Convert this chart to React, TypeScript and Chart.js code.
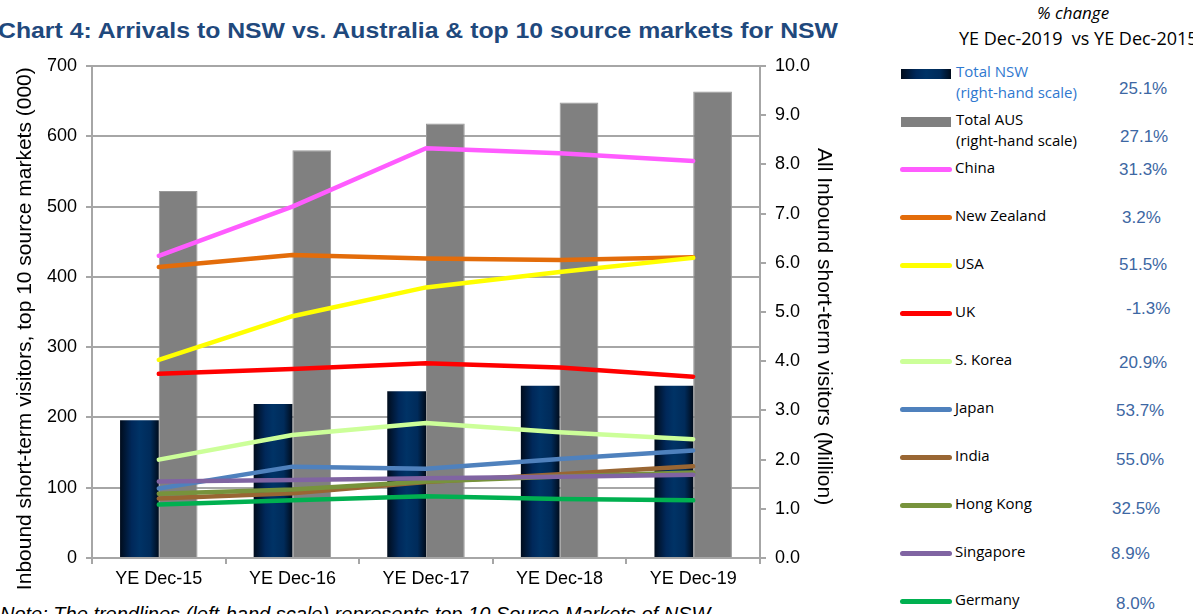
import React, { useEffect, useRef } from "react";
import { Chart, registerables } from "chart.js";

Chart.register(...registerables);

const categories = ["YE Dec-15", "YE Dec-16", "YE Dec-17", "YE Dec-18", "YE Dec-19"];
// Right-hand scale (Million)
const totalNSW = [2.8, 3.13, 3.39, 3.5, 3.5];
const totalAUS = [7.46, 8.29, 8.83, 9.26, 9.48];
// Left-hand scale (000)
const china = [430, 500, 583, 576, 565];
const newZealand = [414, 431, 426, 424, 428];
const usa = [282, 344, 385, 407, 427];
const uk = [262, 269, 277, 271, 258];
const sKorea = [140, 175, 192, 179, 169];
const japan = [99, 130, 127, 141, 153];
const india = [84.5, 92, 108, 119, 130.5];
const hongKong = [91.5, 97.5, 109, 116, 121.5];
const singapore = [109, 111, 113.5, 115.5, 118.5];
const germany = [76, 82, 88, 84, 82];

const leftTicks = { min: 0, max: 700, step: 100 };
const rightTicks = { min: 0, max: 10, step: 1 };

const pctChange = ["25.1%", "27.1%", "31.3%", "3.2%", "51.5%", "-1.3%", "20.9%", "53.7%", "55.0%", "32.5%", "8.9%", "8.0%"];

const lineSeries = [
  { label: "China", data: china, color: "#ff5cff" },
  { label: "New Zealand", data: newZealand, color: "#e36c0a" },
  { label: "USA", data: usa, color: "#ffff00" },
  { label: "UK", data: uk, color: "#ff0000" },
  { label: "S. Korea", data: sKorea, color: "#ccff99" },
  { label: "Japan", data: japan, color: "#4f81bd" },
  { label: "India", data: india, color: "#996633" },
  { label: "Hong Kong", data: hongKong, color: "#77933c" },
  { label: "Singapore", data: singapore, color: "#8064a2" },
  { label: "Germany", data: germany, color: "#00b050" },
];

const AXIS_FONT = "'Liberation Sans', Arial, sans-serif";
const LEGEND_FONT = "'Open Sans', sans-serif";
const gridColor = "#a6a6a6";
const SP = "\u00a0\u00a0\u00a0\u00a0\u00a0";

const navyGradient = {
  id: "navyGradient",
  beforeDatasetsDraw(chart: any) {
    const meta = chart.getDatasetMeta(0);
    const ctx = chart.ctx;
    meta.data.forEach((el: any) => {
      const w = el.width;
      const l = el.x - w / 2;
      const g = ctx.createLinearGradient(l, 0, l + w, 0);
      g.addColorStop(0, "#000c1c");
      g.addColorStop(0.3, "#00285a");
      g.addColorStop(0.5, "#003366");
      g.addColorStop(0.78, "#002b5a");
      g.addColorStop(1, "#000c1c");
      el.options.backgroundColor = g;
    });
  },
};

function ChartCanvas() {
  const ref = useRef<HTMLCanvasElement | null>(null);
  useEffect(() => {
    if (!ref.current) return;
    const datasets: any[] = [
      {
        type: "bar",
        label: "Total NSW",
        data: totalNSW,
        yAxisID: "y1",
        backgroundColor: () => "#003366",
        categoryPercentage: 0.58,
        barPercentage: 1.0,
        order: 100,
      },
      {
        type: "bar",
        label: "Total AUS",
        data: totalAUS,
        yAxisID: "y1",
        backgroundColor: "#808080",
        borderColor: "#999999",
        borderWidth: 1,
        categoryPercentage: 0.58,
        barPercentage: 1.0,
        order: 101,
      },
      ...lineSeries.map((s, i) => ({
        type: "line",
        label: s.label,
        data: s.data,
        yAxisID: "y",
        borderColor: s.color,
        backgroundColor: s.color,
        borderWidth: 4.5,
        borderCapStyle: "round",
        borderJoinStyle: "round",
        pointRadius: 0,
        tension: 0,
        fill: false,
        order: 20 - i,
      })),
    ];
    const chart = new Chart(ref.current, {
      type: "bar",
      data: { labels: categories, datasets },
      plugins: [navyGradient],
      options: {
        responsive: false,
        animation: false,
        devicePixelRatio: 1,
        layout: { padding: { top: 22, left: 0, right: 0, bottom: 0 } },
        plugins: { legend: { display: false }, tooltip: { enabled: false }, title: { display: false } },
        scales: {
          x: {
            offset: true,
            grid: { display: true, drawOnChartArea: false, drawTicks: true, tickLength: 6, offset: true, color: gridColor, lineWidth: 2 },
            border: { display: true, color: gridColor, width: 2 },
            ticks: { font: { family: AXIS_FONT, size: 18 }, color: "#000", padding: 4, maxRotation: 0 },
            afterFit: (s: any) => { s.height = 42; },
          },
          y: {
            position: "left",
            min: leftTicks.min,
            max: leftTicks.max,
            ticks: { stepSize: leftTicks.step, font: { family: AXIS_FONT, size: 18 }, color: "#000", padding: 9 },
            grid: { color: gridColor, lineWidth: 2, tickLength: 6 },
            border: { color: gridColor, width: 2 },
            title: {
              display: true,
              text: "Inbound short-term visitors, top 10 source markets (000)" + SP + "\u2009",
              font: { family: AXIS_FONT, size: 21 },
              color: "#000",
              padding: { top: 13, bottom: 0 },
            },
            afterFit: (s: any) => { s.width = 92; },
          },
          y1: {
            position: "right",
            min: rightTicks.min,
            max: rightTicks.max,
            ticks: {
              stepSize: rightTicks.step,
              font: { family: AXIS_FONT, size: 18 },
              color: "#000",
              padding: 9,
              callback: (v: any) => Number(v).toFixed(1),
            },
            grid: { drawOnChartArea: false, color: gridColor, lineWidth: 2, tickLength: 6 },
            border: { color: gridColor, width: 2 },
            title: {
              display: true,
              text: SP + "All Inbound short-term visitors (Million)",
              font: { family: AXIS_FONT, size: 21 },
              color: "#000",
              padding: { top: 24, bottom: 0 },
            },
            afterFit: (s: any) => { s.width = 100; },
          },
        },
      } as any,
    });
    return () => chart.destroy();
  }, []);
  return <canvas ref={ref} width={860} height={556} style={{ display: "block" }} />;
}

const abs = (left: number, top: number, extra: React.CSSProperties = {}): React.CSSProperties => ({
  position: "absolute",
  left,
  top,
  whiteSpace: "nowrap",
  lineHeight: 1,
  ...extra,
});

export default function App() {
  const lineRowY = [169, 217, 265, 313, 361, 409, 457, 505, 553, 601];
  const pctCapTop = [82, 130, 163, 211, 258, 302, 356, 404, 453, 502, 547, 597];
  const pctX = [1119, 1120, 1119, 1122, 1119, 1126, 1119, 1116, 1116, 1112, 1111, 1116];
  const labelStyle: React.CSSProperties = { fontFamily: LEGEND_FONT, fontSize: 15, color: "#000" };
  return (
    <div style={{ position: "fixed", left: 0, top: 0, width: 1193, height: 614, overflow: "hidden", background: "#fff" }}>
      <div
        style={abs(-2, 20, {
          fontFamily: AXIS_FONT,
          fontWeight: "bold",
          fontSize: 22,
          color: "#1f497d",
          transform: "scaleX(1.127)",
          transformOrigin: "left top",
        })}
      >
        Chart 4: Arrivals to NSW vs. Australia &amp; top 10 source markets for NSW
      </div>
      <div style={{ position: "absolute", left: 0, top: 44 }}>
        <ChartCanvas />
      </div>
      <div style={abs(0, 604, { fontFamily: AXIS_FONT, fontStyle: "italic", fontSize: 20, color: "#000" })}>
        Note: The trendlines (left-hand scale) represents top 10 Source Markets of NSW
      </div>

      {/* Legend header */}
      <div style={abs(1037, 4, { fontFamily: LEGEND_FONT, fontStyle: "italic", fontSize: 17, color: "#000" })}>% change</div>
      <div style={abs(959, 29, { fontFamily: LEGEND_FONT, fontSize: 18, color: "#000", whiteSpace: "pre" })}>
        {"YE Dec-2019  vs YE Dec-2015"}
      </div>

      {/* Total NSW */}
      <div
        style={{
          position: "absolute",
          left: 901,
          top: 69,
          width: 50,
          height: 10,
          background: "linear-gradient(to right, #000c1c 0%, #00285a 30%, #003366 50%, #002b5a 78%, #000c1c 100%)",
        }}
      />
      <div style={abs(956, 61, { ...labelStyle, color: "#2f78cf", lineHeight: "21px" })}>
        Total NSW
        <br />
        (right-hand scale)
      </div>
      {/* Total AUS */}
      <div style={{ position: "absolute", left: 901, top: 117, width: 50, height: 10, background: "#808080" }} />
      <div style={abs(956, 109, { ...labelStyle, lineHeight: "21px" })}>
        Total AUS
        <br />
        (right-hand scale)
      </div>

      {lineSeries.map((s, i) => (
        <React.Fragment key={s.label}>
          <div
            style={{
              position: "absolute",
              left: 900,
              top: lineRowY[i] - 2.5,
              width: 52,
              height: 5,
              borderRadius: 3,
              background: s.color,
            }}
          />
          <div style={abs(955, lineRowY[i] - 8.6, labelStyle)}>{s.label}</div>
        </React.Fragment>
      ))}

      {pctChange.map((p, i) => (
        <div key={i} style={abs(pctX[i], pctCapTop[i] - 2.2, { fontFamily: AXIS_FONT, fontSize: 17, color: "#3d67a3" })}>
          {p}
        </div>
      ))}
    </div>
  );
}
